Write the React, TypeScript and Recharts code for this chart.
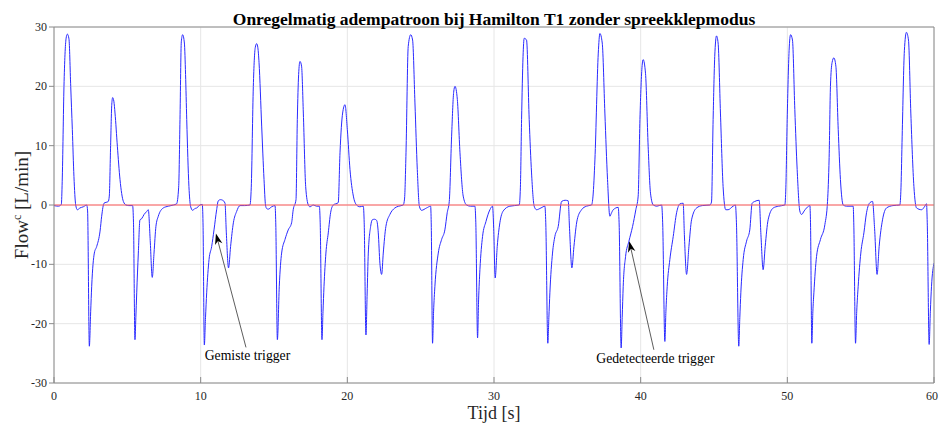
import { LineChart, Line, XAxis, YAxis, CartesianGrid, ReferenceLine } from 'recharts'

// time [s], one line per breath phase
const tijd = [
  0, 0.3, 0.5, 0.56, 0.68, 0.82, 0.91, 1.02, 1.14, 1.25, 1.36, 1.48, 1.59, 1.77, 2.0, 2.23,
  2.29, 2.41, 2.5, 2.57, 2.75, 2.91, 3.14, 3.25, 3.41, 3.7, 3.77,
  3.86, 3.94, 4.0, 4.08, 4.16, 4.32, 4.5, 4.73, 4.91, 5.1, 5.36,
  5.42, 5.52, 5.58, 5.64, 5.75, 5.86, 5.98, 6.14, 6.32, 6.43,
  6.56, 6.7, 6.82, 6.95, 7.11, 7.45, 7.8, 8.14, 8.36,
  8.5, 8.59, 8.68, 8.77, 8.89, 8.97, 9.05, 9.2, 9.31, 9.45, 9.6, 9.73, 9.95, 10.11,
  10.16, 10.25, 10.33, 10.41, 10.57, 10.75, 10.91, 11.09, 11.2, 11.35, 11.5, 11.66,
  11.75, 11.9, 12.04, 12.23, 12.45, 12.68, 13.0, 13.36,
  13.45, 13.59, 13.72, 13.82, 13.9, 13.98, 14.16, 14.32, 14.42, 14.5, 14.61, 14.84, 15.07,
  15.12, 15.23, 15.36, 15.52, 15.75, 15.97, 16.2, 16.31, 16.5,
  16.59, 16.68, 16.77, 16.88, 17.0, 17.16, 17.34, 17.45, 17.68, 17.9, 18.09,
  18.15, 18.27, 18.34, 18.41, 18.54, 18.7, 18.86, 19.04, 19.38,
  19.5, 19.68, 19.84, 20.0, 20.18, 20.41, 20.63, 20.85, 21.09,
  21.15, 21.27, 21.35, 21.43, 21.59, 21.7, 21.85, 22.0,
  22.11, 22.22, 22.34, 22.45, 22.63, 22.9, 23.24, 23.5, 23.81,
  23.9, 24.0, 24.15, 24.32, 24.45, 24.61, 24.77, 24.91, 25.06, 25.4, 25.68,
  25.72, 25.81, 25.88, 25.97, 26.2, 26.43, 26.65, 26.81, 26.95,
  27.11, 27.25, 27.34, 27.5, 27.68, 27.9, 28.13, 28.4, 28.7,
  28.76, 28.88, 28.95, 29.04, 29.22, 29.45, 29.72, 29.9,
  29.98, 30.08, 30.22, 30.4, 30.63, 31.08, 31.72,
  31.8, 31.88, 31.98, 32.06, 32.22, 32.4, 32.56, 32.74, 32.9, 33.2, 33.47,
  33.53, 33.67, 33.74, 33.81, 33.99, 34.15, 34.38, 34.61, 34.85, 35.06,
  35.15, 35.31, 35.45, 35.67, 35.97, 36.3, 36.65,
  36.75, 36.88, 37.11, 37.22, 37.38, 37.56, 37.74, 37.9, 38.0, 38.13, 38.47,
  38.53, 38.67, 38.74, 38.81, 38.97, 39.2, 39.45, 39.67, 39.83,
  39.95, 40.1, 40.17, 40.33, 40.51, 40.67, 40.86, 41.1, 41.43,
  41.5, 41.65, 41.72, 41.81, 41.99, 42.22, 42.45, 42.68, 42.9,
  42.98, 43.13, 43.29, 43.47, 43.81, 44.2, 44.72,
  44.83, 44.94, 45.05, 45.17, 45.28, 45.44, 45.62, 45.8, 45.96, 46.3, 46.46,
  46.53, 46.69, 46.76, 46.83, 46.99, 47.22, 47.44, 47.6, 47.78, 48.08,
  48.2, 48.35, 48.49, 48.69, 49.04, 49.4, 49.83,
  49.9, 49.99, 50.12, 50.22, 50.35, 50.51, 50.67, 50.85, 50.97, 51.15, 51.31, 51.54,
  51.58, 51.67, 51.74, 51.81, 51.99, 52.26, 52.56, 52.74,
  52.85, 52.94, 53.05, 53.17, 53.31, 53.47, 53.62, 53.81, 54.03, 54.49,
  54.53, 54.65, 54.73, 54.83, 55.01, 55.22, 55.4, 55.63, 55.81,
  55.95, 56.12, 56.26, 56.49, 56.76, 57.2, 57.67,
  57.75, 57.83, 57.98, 58.12, 58.26, 58.42, 58.63, 58.81, 59.15, 59.35, 59.49,
  59.54, 59.67, 59.75, 59.83, 60,
]

// flow [L/min], same layout as tijd
const flow = [
  -0.1, -0.2, 0.1, 4, 20, 28, 28.8, 28, 20, 12.7, 4.8, 0, -0.8, -0.5, -0.3, 0,
  -1, -23.8, -18, -13.7, -8.1, -7, -4.4, -1.9, 0.3, 0.6, 1.5,
  10, 17, 18.1, 17.5, 15.5, 9.9, 4.3, 0.6, 0, -0.1, -0.1,
  -3, -22.7, -19, -14.8, -8.1, -2.5, -2.3, -1.6, -1.1, -0.8,
  -6, -12.2, -8.1, -3.6, -1.9, -0.5, -0.2, 0, 0.2,
  3, 14.4, 27.5, 28.7, 27.3, 22, 14.4, 3.1, -0.2, -0.9, -0.6, -0.5, 0, 0.1,
  -3, -23.6, -19, -14.8, -9.2, -7, -4.2, -0.8, 0.7, 0.9, 0.8, 0.3,
  -4.7, -10.6, -7, -3, -1.1, -0.1, -0.1, 0,
  3, 20, 26.5, 27.2, 26.5, 24, 13.3, 4.3, 0, -0.6, -0.7, -0.3, -0.1,
  -3, -22.7, -13.7, -8.1, -5.8, -4.2, -3, -0.8, 0.9,
  14.4, 22, 24.2, 23.4, 15.5, 3.1, 0, -0.3, 0, -0.2, -0.2,
  -3, -22.7, -18, -13.7, -8.1, -4.7, -1.3, 0, 0.4,
  8.8, 15.5, 16.9, 12.7, 6, 1.5, 0, -0.3, -0.2,
  -3, -21.9, -15, -8.1, -3.6, -2.5, -2.4, -2.6,
  -4.7, -9.8, -11.7, -8.1, -3.6, -1.6, -0.5, -0.2, 0,
  1, 8.8, 26.7, 28.7, 27.8, 17.2, 6, -0.2, -0.9, -0.5, -0.2,
  -3, -23.3, -18, -13.7, -8.1, -5.8, -4.2, -1.3, 0.6,
  11.6, 19, 20, 17.8, 8.8, 1.5, 0, -0.2, -0.2,
  -3, -22.4, -16, -10.9, -5.3, -2.8, -0.8, -0.2,
  -4, -12.3, -7, -3, -1, -0.2, 0,
  3, 14.4, 25, 28.1, 27.8, 14.4, 5.4, -0.2, -0.8, -0.5, -0.2,
  -3, -23.3, -19, -14.8, -8.1, -5.3, -3.6, 0.6, 0.8, 0.7,
  -4, -10.6, -7, -2.5, -0.8, -0.2, 0,
  1.5, 7.6, 25.6, 28.9, 27.3, 15.5, 4.3, -1.9, -1.4, -0.8, -0.4,
  -3, -24.1, -19, -13.7, -8.7, -6.1, -3.6, -0.8, 1.5,
  14.4, 23.5, 24.5, 22.2, 9.9, 2, 0, -0.2, 0,
  -3, -23, -18, -13.7, -9.2, -5.3, -1.3, 0.2, 0.3,
  -5, -11.7, -7, -2.5, -0.5, -0.1, 0,
  0.5, 14.4, 25, 28.5, 27.3, 15.5, 3.1, -0.8, -0.8, -0.2, 0,
  -3, -23.8, -19, -14.8, -9.2, -6.1, -4.2, 0.3, 0.6, 0.8,
  -5, -10.9, -7, -2.5, -0.5, -0.2, 0,
  3, 14.4, 26, 28.7, 27.8, 16.1, 6, -1, -1.6, -1, -0.5, -0.1,
  -3, -23.3, -18, -14.8, -8.7, -5.8, -3.3, 0.6,
  8, 20, 24, 24.8, 23.4, 12.7, 4.3, 0, -0.2, -0.2,
  -3, -23.3, -18, -13.7, -8.1, -4.7, -1.3, 0.4, 0.6,
  -4, -11.7, -7, -2.5, -0.5, -0.1, 0,
  3, 11.6, 26, 29.1, 27.8, 15.5, 3.1, -0.5, -0.8, -0.3, 0.2,
  -3, -23.5, -18, -13.7, -9.8,
]

const xTicks = [0, 10, 20, 30, 40, 50, 60]
const yTicks = [-30, -20, -10, 0, 10, 20, 30]

// annotation arrows: tail (text) -> tip, in data units
const gemiste = { text: 'Gemiste trigger', from: { x: 13.09, y: -24.0 }, to: { x: 11.04, y: -4.8 } }
const gedetecteerd = { text: 'Gedetecteerde trigger', from: { x: 40.9, y: -24.4 }, to: { x: 39.22, y: -6.1 } }

const data = tijd.map((t, i) => ({ t, flow: flow[i] }))

const serif = '"Liberation Serif", "Times New Roman", serif'
const frame = '#8a8a8a'

function XTick(props: any) {
  const { x, y, payload } = props
  return (
    <text x={x} y={y} dy="0.71em" textAnchor="middle" fontFamily={serif} fontSize={12} fill="#262626">
      {payload.value}
    </text>
  )
}

function YTick(props: any) {
  const { x, y, payload } = props
  return (
    <text x={x} y={y} dy="0.34em" textAnchor="end" fontFamily={serif} fontSize={12} fill="#262626">
      {payload.value}
    </text>
  )
}

function Arrow(props: any) {
  const { x1, y1, x2, y2, text } = props
  const dx = x2 - x1
  const dy = y2 - y1
  const len = Math.sqrt(dx * dx + dy * dy)
  const ux = dx / len
  const uy = dy / len
  const px = -uy
  const py = ux
  const headLen = 11
  const headW = 3.8
  const bx = x2 - ux * headLen
  const by = y2 - uy * headLen
  const nx = x2 - ux * headLen * 0.7
  const ny = y2 - uy * headLen * 0.7
  const head = `${x2},${y2} ${bx + px * headW},${by + py * headW} ${nx},${ny} ${bx - px * headW},${by - py * headW}`
  return (
    <g>
      <line x1={x1} y1={y1} x2={nx} y2={ny} stroke="#333" strokeWidth={0.8} />
      <polygon points={head} fill="#000" />
      <text x={x1 + 1.5} y={y1 + 13} textAnchor="middle" fontFamily={serif} fontSize={13.7} fill="#000">
        {text}
      </text>
    </g>
  )
}

export default function App() {
  return (
    <div
      style={{
        position: 'absolute',
        left: 0,
        top: 0,
        width: 940,
        height: 426,
        background: '#fff',
        fontFamily: serif,
      }}
    >
      <LineChart width={940} height={426} data={data} margin={{ top: 26, right: 5, bottom: 0, left: 0 }}>
        <CartesianGrid stroke="#e6e6e6" strokeWidth={1} />
        <XAxis
          dataKey="t"
          type="number"
          domain={[0, 60]}
          ticks={xTicks}
          allowDataOverflow
          height={43}
          tickSize={-6}
          tickMargin={14}
          axisLine={{ stroke: frame }}
          tickLine={{ stroke: frame }}
          tick={<XTick />}
        />
        <XAxis
          xAxisId="top"
          orientation="top"
          type="number"
          domain={[0, 60]}
          ticks={xTicks}
          allowDataOverflow
          height={1}
          tickSize={-6}
          tick={false}
          axisLine={{ stroke: frame }}
          tickLine={{ stroke: frame }}
        />
        <YAxis
          type="number"
          domain={[-30, 30]}
          ticks={yTicks}
          allowDataOverflow
          width={54}
          tickSize={5}
          tickMargin={2}
          axisLine={{ stroke: frame }}
          tickLine={{ stroke: frame }}
          tick={<YTick />}
        />
        <YAxis
          yAxisId="right"
          orientation="right"
          type="number"
          domain={[-30, 30]}
          ticks={yTicks}
          allowDataOverflow
          width={1}
          tickSize={-7}
          tick={false}
          axisLine={{ stroke: frame }}
          tickLine={{ stroke: frame }}
        />
        <Line
          type="monotone"
          dataKey="flow"
          stroke="#2a2aff"
          strokeWidth={1}
          dot={false}
          activeDot={false}
          isAnimationActive={false}
        />
        <ReferenceLine y={0} stroke="#ff5a5a" strokeWidth={1} />
        <ReferenceLine
          segment={[gemiste.from, gemiste.to]}
          shape={(p: any) => <Arrow {...p} text={gemiste.text} />}
        />
        <ReferenceLine
          segment={[gedetecteerd.from, gedetecteerd.to]}
          shape={(p: any) => <Arrow {...p} text={gedetecteerd.text} />}
        />
      </LineChart>
      <svg width={940} height={426} style={{ position: 'absolute', left: 0, top: 0, pointerEvents: 'none' }}>
        <text x={494} y={25} textAnchor="middle" fontFamily={serif} fontWeight="bold" fontSize={17.5} fill="#000">
          Onregelmatig adempatroon bij Hamilton T1 zonder spreekklepmodus
        </text>
        <text x={494} y={419} textAnchor="middle" fontFamily={serif} fontSize={18} fill="#262626">
          Tijd [s]
        </text>
        <text
          x={28}
          y={205}
          textAnchor="middle"
          transform="rotate(-90 28 205)"
          fontFamily={serif}
          fontSize={19}
          fill="#262626"
        >
          Flow
          <tspan dy={-7} fontSize={12}>c</tspan>
          <tspan dy={7}> [L/min]</tspan>
        </text>
      </svg>
    </div>
  )
}
